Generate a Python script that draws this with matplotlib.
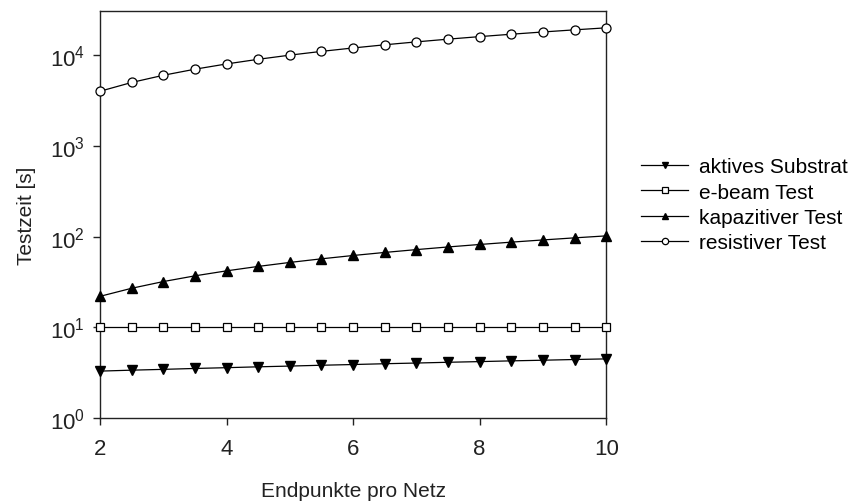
import matplotlib
matplotlib.use("Agg")
import matplotlib.pyplot as plt
from matplotlib.ticker import LogLocator, NullLocator, FixedLocator

plt.rcParams['font.family'] = ['Liberation Sans', 'DejaVu Sans']
plt.rcParams['mathtext.fontset'] = 'custom'
plt.rcParams['mathtext.rm'] = 'Liberation Sans'
plt.rcParams['mathtext.it'] = 'Liberation Sans'

# --- data ---
endpunkte = [2, 2.5, 3, 3.5, 4, 4.5, 5, 5.5, 6, 6.5, 7, 7.5, 8, 8.5, 9, 9.5, 10]
aktives_substrat = [3.3, 3.38, 3.45, 3.53, 3.6, 3.68, 3.75, 3.83, 3.9, 3.98,
                    4.05, 4.13, 4.2, 4.28, 4.35, 4.43, 4.5]
ebeam_test = [10] * 17
kapazitiver_test = [22, 27, 32, 37, 42, 47, 52, 57, 62, 67, 72, 77, 82, 87, 92, 97, 102]
resistiver_test = [4000, 5000, 6000, 7000, 8000, 9000, 10000, 11000, 12000, 13000,
                   14000, 15000, 16000, 17000, 18000, 19000, 20000]

x_ticks = [2, 4, 6, 8, 10]

fig = plt.figure(figsize=(8.55, 5.02), dpi=100)
ax = fig.add_axes([0.117, 0.165, 0.592, 0.812])

lw = 0.9
ax.plot(endpunkte, aktives_substrat, '-v', color='black', lw=lw, ms=7,
        mfc='black', mec='black', label='aktives Substrat', clip_on=False, zorder=3)
ax.plot(endpunkte, ebeam_test, '-s', color='black', lw=lw, ms=6,
        mfc='white', mec='black', mew=0.9, label='e-beam Test', clip_on=False, zorder=3)
ax.plot(endpunkte, kapazitiver_test, '-^', color='black', lw=lw, ms=7,
        mfc='black', mec='black', label='kapazitiver Test', clip_on=False, zorder=3)
ax.plot(endpunkte, resistiver_test, '-o', color='black', lw=lw, ms=6.5,
        mfc='white', mec='black', mew=0.9, label='resistiver Test', clip_on=False, zorder=3)

ax.set_yscale('log')
ax.set_ylim(1, 3.1e4)
ax.set_xlim(2, 10)
ax.xaxis.set_major_locator(FixedLocator(x_ticks))
ax.yaxis.set_major_locator(LogLocator(base=10, numticks=10))
ax.yaxis.set_minor_locator(NullLocator())
ax.xaxis.set_minor_locator(NullLocator())

for side in ['left', 'right', 'top', 'bottom']:
    ax.spines[side].set_linewidth(1.0)
    ax.spines[side].set_color('#222222')
ax.tick_params(axis='both', direction='out', length=5, width=1.0,
               labelsize=16, colors='#222222', pad=6)
ax.tick_params(axis='x', pad=9)

ax.set_xlabel('Endpunkte pro Netz', fontsize=15, labelpad=16, color='#222222')
ax.set_ylabel('Testzeit [s]', fontsize=15, labelpad=10, color='#222222')

ax.legend(loc='center left', bbox_to_anchor=(0.737, 0.59),
          bbox_transform=fig.transFigure, frameon=False, fontsize=15,
          handlelength=2.3, handletextpad=0.5, labelspacing=0.3, borderpad=0,
          markerscale=0.7)

fig.savefig('out.png', dpi=100)
